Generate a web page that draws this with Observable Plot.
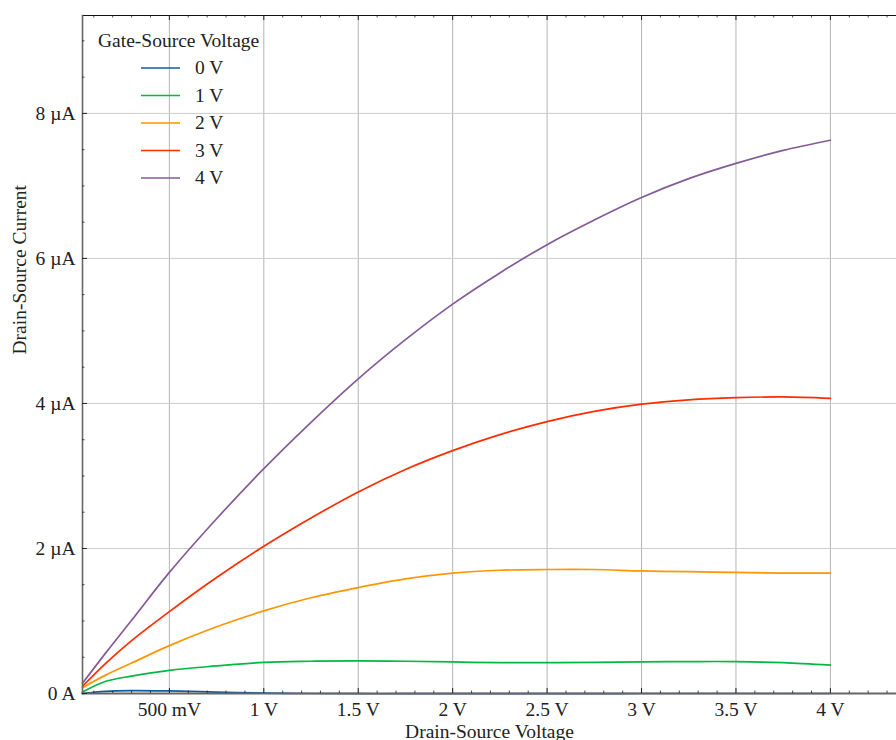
<!DOCTYPE html>
<html>
<head>
<meta charset="utf-8">
<script src="https://cdn.jsdelivr.net/npm/d3@7"></script>
<script src="https://cdn.jsdelivr.net/npm/@observablehq/plot@0.6"></script>
<style>
  html, body { margin: 0; padding: 0; background: #fff; overflow: hidden; }
</style>
</head>
<body>
<div id="chart"></div>
<script>
// Drain-source voltage samples (V)
const vds = [0.04, 0.16, 0.3, 0.5, 0.75, 1.0, 1.25, 1.5, 1.75, 2.0, 2.25, 2.5, 2.75, 3.0, 3.25, 3.5, 3.75, 4.0];
// Gate-source voltage series labels and colours
const gateLabels = ["0 V", "1 V", "2 V", "3 V", "4 V"];
const gateColors = ["#0C5DA5", "#00B945", "#FF9500", "#FF2C00", "#845B97"];
// Drain-source current (µA) for each gate voltage
const id0V = [0.0, 0.03, 0.04, 0.035, 0.02, 0.005, 0.0, -0.003, -0.003, -0.002, -0.002, -0.001, -0.001, 0.0, 0.0, 0.0, 0.0, 0.0];
const id1V = [0.02, 0.165, 0.24, 0.32, 0.38, 0.43, 0.445, 0.45, 0.445, 0.435, 0.425, 0.425, 0.43, 0.435, 0.44, 0.44, 0.425, 0.39];
const id2V = [0.08, 0.25, 0.42, 0.66, 0.92, 1.14, 1.32, 1.46, 1.58, 1.66, 1.70, 1.71, 1.71, 1.69, 1.68, 1.67, 1.66, 1.66];
const id3V = [0.10, 0.41, 0.73, 1.13, 1.60, 2.03, 2.42, 2.78, 3.09, 3.35, 3.57, 3.75, 3.89, 3.99, 4.05, 4.08, 4.09, 4.07];
const id4V = [0.14, 0.55, 1.01, 1.67, 2.41, 3.10, 3.74, 4.34, 4.88, 5.37, 5.80, 6.19, 6.53, 6.84, 7.10, 7.31, 7.49, 7.63];
// Axis ticks
const xMajor = [0.5, 1, 1.5, 2, 2.5, 3, 3.5, 4];
const xMajorLabels = ["500 mV", "1 V", "1.5 V", "2 V", "2.5 V", "3 V", "3.5 V", "4 V"];
const xMinor = d3.range(1, 44).map(i => i / 10).filter(v => !xMajor.some(m => Math.abs(m - v) < 1e-9));
const yMajor = [0, 2, 4, 6, 8];
const yMajorLabels = ["0 A", "2 µA", "4 µA", "6 µA", "8 µA"];
const yMinor = d3.range(1, 19).map(i => i / 2).filter(v => !yMajor.includes(v));

const seriesValues = [id0V, id1V, id2V, id3V, id4V];
const table = [];
seriesValues.forEach((vals, s) => vals.forEach((v, i) => table.push({vds: vds[i], id: v, gate: gateLabels[s]})));

const W = 896, H = 740, mT = 15, mB = 47, mL = 82, mR = 0;
const plotH = H - mT - mB, plotW = W - mL - mR;
const font = "'Liberation Serif', 'Times New Roman', serif";
const fs = 19.5;
const tickColor = "#222";

const svg = Plot.plot({
  width: W, height: H,
  marginTop: mT, marginBottom: mB, marginLeft: mL, marginRight: mR,
  x: {domain: [0.04, 4.35]},
  y: {domain: [0, 9.35]},
  color: {domain: gateLabels, range: gateColors},
  style: {fontFamily: font, fontSize: fs + "px", color: "#222", background: "#fff"},
  marks: [
    Plot.gridX({ticks: xMajor, stroke: "#b4b4b4", strokeOpacity: 1, strokeWidth: 1}),
    Plot.gridY({ticks: yMajor, stroke: "#cccccc", strokeOpacity: 1, strokeWidth: 1}),
    Plot.line(table, {x: "vds", y: "id", z: "gate", stroke: "gate", strokeWidth: 1.7, curve: "catmull-rom"}),
    // spines
    Plot.frame({anchor: "top", stroke: "#111", strokeWidth: 1}),
    Plot.frame({anchor: "left", stroke: "#666", strokeWidth: 1.6}),
    Plot.frame({anchor: "bottom", stroke: "#666", strokeWidth: 2}),
    // inward ticks, bottom & top
    Plot.tickX(xMajor, {x: d => d, insetTop: plotH - 5, stroke: tickColor, strokeWidth: 1}),
    Plot.tickX(xMinor, {x: d => d, insetTop: plotH - 2.5, stroke: tickColor, strokeWidth: 0.8}),
    Plot.tickX(xMajor, {x: d => d, insetBottom: plotH - 5, stroke: tickColor, strokeWidth: 1}),
    Plot.tickX(xMinor, {x: d => d, insetBottom: plotH - 2.5, stroke: tickColor, strokeWidth: 0.8}),
    // inward ticks, left
    Plot.tickY(yMajor, {y: d => d, insetRight: plotW - 5, stroke: tickColor, strokeWidth: 1}),
    Plot.tickY(yMinor, {y: d => d, insetRight: plotW - 2.5, stroke: tickColor, strokeWidth: 0.8}),
    // axis labels
    Plot.axisX({ticks: xMajor, tickSize: 0, tickPadding: 9, tickFormat: d => xMajorLabels[xMajor.indexOf(d)], label: null}),
    Plot.axisY({ticks: yMajor, tickSize: 0, tickPadding: 7, tickFormat: d => yMajorLabels[yMajor.indexOf(d)], label: null}),
    Plot.text(["Drain-Source Voltage"], {frameAnchor: "bottom", dy: 44, text: d => d, fill: "#222"}),
    Plot.text(["Drain-Source Current"], {frameAnchor: "left", dx: -63, rotate: -90, text: d => d, fill: "#222"})
  ]
});

// Legend inside the plot area
const lg = d3.select(svg).append("g")
  .attr("font-family", font).attr("font-size", fs).attr("fill", "#222").attr("text-anchor", "start");
lg.append("text").attr("x", 98).attr("y", 41).attr("dy", "0.32em").attr("text-anchor", "start").text("Gate-Source Voltage");
gateLabels.forEach((lab, i) => {
  const y = 68 + 27.5 * i;
  lg.append("line").attr("x1", 141).attr("x2", 180).attr("y1", y).attr("y2", y)
    .attr("stroke", gateColors[i]).attr("stroke-width", 1.7);
  lg.append("text").attr("x", 195).attr("y", y).attr("dy", "0.32em").attr("text-anchor", "start").text(lab);
});

document.getElementById("chart").appendChild(svg);
</script>
</body>
</html>
